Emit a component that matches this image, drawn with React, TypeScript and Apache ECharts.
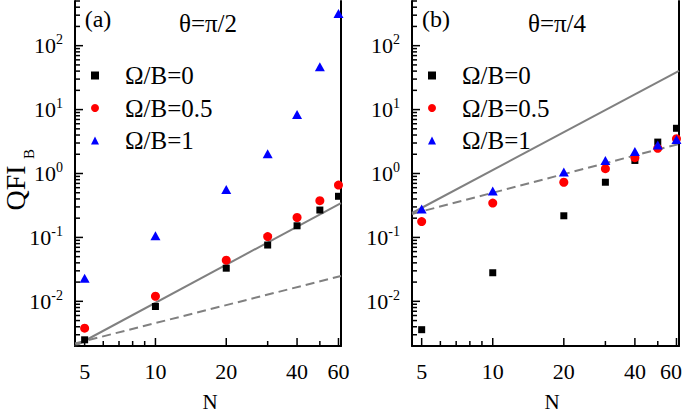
import React, { useEffect, useRef } from "react";
import * as echarts from "echarts";

// ---------- data ----------
const N = [5, 10, 20, 30, 40, 50, 60];

// panel (a) θ=π/2
const a_B0 = [0.0025, 0.0083, 0.033, 0.076, 0.152, 0.268, 0.44];
const a_B05 = [0.0038, 0.012, 0.044, 0.103, 0.205, 0.376, 0.66];
const a_B1 = [0.023, 0.106, 0.56, 2.04, 8.4, 47, 319];
// reference lines (endpoints)
const a_solidN = [4.55, 61.5];
const a_solidV = [0.002, 0.345];
const a_dashN = [4.55, 61.5];
const a_dashV = [0.00219, 0.0249];

// panel (b) θ=π/4
const b_B0 = [0.0036, 0.028, 0.218, 0.73, 1.6, 3.1, 5.1];
const b_B05 = [0.177, 0.345, 0.73, 1.19, 1.77, 2.48, 3.5];
const b_B1 = [0.278, 0.53, 1.06, 1.6, 2.2, 2.8, 3.4];
const b_solidN = [4.55, 61.5];
const b_solidV = [0.241, 40.2];
const b_dashN = [4.55, 61.5];
const b_dashV = [0.233, 2.9];

const seriesNames = ["Ω/B=0", "Ω/B=0.5", "Ω/B=1"];
const panelTags = ["(a)", "(b)"];
const panelTitles = ["θ=π/2", "θ=π/4"];

// axes
const X_MIN = 4.55;
const X_MAX = 61.5;
const Y_MIN = 0.002;
const Y_MAX = 500;
const xMajorTicks = [5, 10, 20, 40, 60];
const xMinorTicks = [6, 7, 8, 9, 30, 50];
const yMajorTicks = [0.01, 0.1, 1, 10, 100];
const yMinorTicks = [
  0.002, 0.003, 0.004, 0.005, 0.006, 0.007, 0.008, 0.009,
  0.02, 0.03, 0.04, 0.05, 0.06, 0.07, 0.08, 0.09,
  0.2, 0.3, 0.4, 0.5, 0.6, 0.7, 0.8, 0.9,
  2, 3, 4, 5, 6, 7, 8, 9,
  20, 30, 40, 50, 60, 70, 80, 90,
  200, 300, 400, 500,
];

const FONT = "'Liberation Serif', 'Times New Roman', serif";
const CANVAS_W = 685;

const tickData = [
  ...xMinorTicks.map((v) => [v, Y_MIN, 0]),
  ...xMajorTicks.map((v) => [v, Y_MIN, 1]),
  ...yMinorTicks.map((v) => [X_MIN, v, 2]),
  ...yMajorTicks.map((v) => [X_MIN, v, 3]),
];

const renderTick = (_params: any, api: any) => {
  const kind = api.value(2);
  const p = api.coord([api.value(0), api.value(1)]);
  const stroke = { stroke: "#000", lineWidth: 1.5 };
  const children: any[] = [];
  if (kind < 2) {
    const len = kind === 1 ? 8 : 5;
    children.push({
      type: "line",
      shape: { x1: p[0], y1: p[1], x2: p[0], y2: p[1] - len },
      style: stroke,
    });
    if (kind === 1) {
      children.push({
        type: "text",
        x: Math.min(p[0], CANVAS_W - 14),
        y: p[1] + 25,
        style: {
          text: String(api.value(0)),
          fill: "#000",
          fontSize: 22,
          fontFamily: FONT,
          align: "center",
          verticalAlign: "middle",
        },
      });
    }
  } else {
    const len = kind === 3 ? 8 : 5;
    children.push({
      type: "line",
      shape: { x1: p[0], y1: p[1], x2: p[0] + len, y2: p[1] },
      style: stroke,
    });
    if (kind === 3) {
      const exp = Math.round(Math.log10(api.value(1)));
      children.push({
        type: "text",
        x: p[0] - 12,
        y: p[1],
        style: {
          text: `{b|10}{s|${exp}}`,
          fill: "#000",
          fontFamily: FONT,
          fontSize: 22,
          align: "right",
          verticalAlign: "middle",
          rich: {
            b: { fontSize: 22, lineHeight: 26, fontFamily: FONT, fill: "#000" },
            s: {
              fontSize: 14,
              lineHeight: 14,
              fontFamily: FONT,
              fill: "#000",
              verticalAlign: "top",
            },
          },
        },
      });
    }
  }
  return { type: "group", children };
};

const grids = [
  { left: 75, top: 1, width: 266, height: 345 },
  { left: 412, top: 1, width: 267, height: 345 },
];

function buildOption() {
  const xAxis = grids.map((_, i) => ({
    type: "log",
    logBase: 10,
    gridIndex: i,
    min: X_MIN,
    max: X_MAX,
    axisLine: { show: true, onZero: false, lineStyle: { color: "#000", width: 2 } },
    axisTick: { show: false },
    axisLabel: { show: false },
    splitLine: { show: false },
    minorTick: { show: false },
  }));
  const yAxis: any[] = [];
  grids.forEach((_, i) => {
    ["left", "right"].forEach((pos) => {
      yAxis.push({
        type: "log",
        logBase: 10,
        gridIndex: i,
        position: pos,
        min: Y_MIN,
        max: Y_MAX,
        axisLine: { show: true, onZero: false, lineStyle: { color: "#000", width: 2 } },
        axisTick: { show: false },
        axisLabel: { show: false },
        splitLine: { show: false },
      });
    });
  });

  const panels = [
    { pts: [a_B0, a_B05, a_B1], solid: [a_solidN, a_solidV], dash: [a_dashN, a_dashV] },
    { pts: [b_B0, b_B05, b_B1], solid: [b_solidN, b_solidV], dash: [b_dashN, b_dashV] },
  ];
  const symbols = ["rect", "circle", "triangle"];
  const sizes: any[] = [7, 9, [10, 9]];
  const colors = ["#000000", "#ff0000", "#0000ff"];

  const series: any[] = [];
  panels.forEach((pn, i) => {
    series.push({
      type: "line",
      xAxisIndex: i,
      yAxisIndex: i * 2,
      data: pn.solid[0].map((n, k) => [n, pn.solid[1][k]]),
      showSymbol: false,
      symbol: "none",
      lineStyle: { color: "#808080", width: 2 },
      silent: true,
      z: 2,
    });
    series.push({
      type: "line",
      xAxisIndex: i,
      yAxisIndex: i * 2,
      data: pn.dash[0].map((n, k) => [n, pn.dash[1][k]]),
      showSymbol: false,
      symbol: "none",
      lineStyle: { color: "#808080", width: 2, type: [9, 5] },
      silent: true,
      z: 2,
    });
    pn.pts.forEach((vals, s) => {
      series.push({
        type: "scatter",
        name: seriesNames[s],
        xAxisIndex: i,
        yAxisIndex: i * 2,
        data: N.map((n, k) => [n, vals[k]]),
        symbol: symbols[s],
        symbolSize: sizes[s],
        itemStyle: { color: colors[s], opacity: 1 },
        silent: true,
        z: 3,
      });
    });
    series.push({
      type: "custom",
      xAxisIndex: i,
      yAxisIndex: i * 2,
      data: tickData,
      renderItem: renderTick,
      clip: false,
      silent: true,
      z: 5,
    });
  });

  const legend = [91, 428].map((left) => ({
    data: seriesNames,
    orient: "vertical",
    left,
    top: 63,
    itemWidth: 8,
    itemHeight: 8,
    itemGap: 7.5,
    selectedMode: false,
    padding: 0,
    textStyle: {
      fontFamily: FONT,
      fontSize: 25,
      lineHeight: 25,
      color: "#000",
      padding: [0, 0, 0, 21],
    },
  }));

  const textStyle = (fontSize: number) => ({
    fill: "#000",
    fontFamily: FONT,
    fontSize,
    align: "center",
    verticalAlign: "middle",
  });

  const graphic: any[] = [
    { type: "text", x: 98, y: 19, style: { ...textStyle(24), text: panelTags[0] } },
    { type: "text", x: 208, y: 23, style: { ...textStyle(25), text: panelTitles[0] } },
    { type: "text", x: 436, y: 19, style: { ...textStyle(24), text: panelTags[1] } },
    { type: "text", x: 557, y: 23, style: { ...textStyle(25), text: panelTitles[1] } },
    { type: "text", x: 210, y: 402, style: { ...textStyle(21), text: "N" } },
    { type: "text", x: 552, y: 402, style: { ...textStyle(21), text: "N" } },
    {
      type: "text",
      x: 15,
      y: 188,
      rotation: Math.PI / 2,
      style: { ...textStyle(28), text: "QFI" },
    },
    {
      type: "text",
      x: 29,
      y: 154,
      rotation: Math.PI / 2,
      style: { ...textStyle(15), text: "B" },
    },
  ];

  return {
    animation: false,
    backgroundColor: "#ffffff",
    grid: grids.map((g) => ({ ...g, containLabel: false, show: false })),
    xAxis,
    yAxis,
    legend,
    graphic,
    series,
  };
}

export default function App() {
  const ref = useRef<HTMLDivElement>(null);
  useEffect(() => {
    if (!ref.current) return;
    const chart = echarts.init(ref.current, null, { renderer: "svg" });
    chart.setOption(buildOption() as any);
    return () => chart.dispose();
  }, []);
  return (
    <div
      ref={ref}
      style={{ position: "fixed", left: 0, top: 0, width: 685, height: 413, background: "#fff" }}
    />
  );
}
